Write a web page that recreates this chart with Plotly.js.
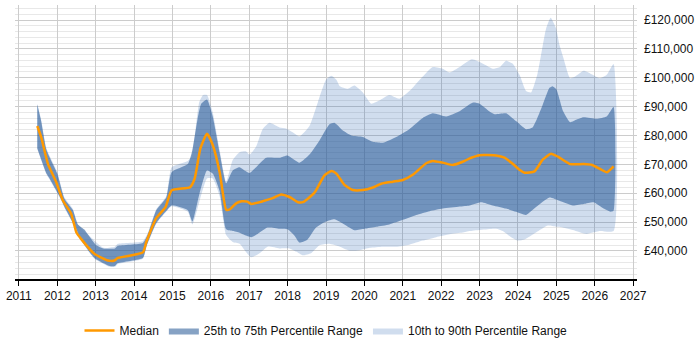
<!DOCTYPE html>
<html>
<head>
<meta charset="utf-8">
<script src="https://cdn.plot.ly/plotly-3.0.1.min.js"></script>
<style>html,body{margin:0;padding:0;background:#fff;}#chart{width:700px;height:350px;}</style>
</head>
<body>
<div id="chart"></div>
<script>
// Median
const medX = [2011.48,2011.58,2011.76,2011.97,2012.15,2012.36,2012.50,2012.62,2012.97,2013.32,2013.49,2013.58,2014.23,2014.32,2014.58,2014.82,2014.98,2015.46,2015.58,2015.73,2015.90,2016.05,2016.23,2016.40,2016.49,2016.66,2016.80,2016.95,2017.05,2017.35,2017.61,2017.83,2018.05,2018.27,2018.40,2018.70,2018.96,2019.14,2019.27,2019.48,2019.70,2019.96,2020.22,2020.44,2020.74,2021.00,2021.26,2021.61,2021.78,2022.04,2022.30,2022.56,2022.78,2023.00,2023.43,2023.65,2023.87,2024.04,2024.17,2024.43,2024.65,2024.86,2025.05,2025.36,2025.71,2025.93,2026.14,2026.32,2026.49];
const medY = [83300,79500,70100,64000,57400,53000,46400,44200,39000,36700,36700,37600,39500,43100,51400,55200,61000,62100,65100,75600,80600,76700,67300,54300,54400,56500,57200,57100,56300,57200,58300,59600,58700,56900,56900,60200,66200,67700,66800,62900,61100,61100,62000,63300,64000,64600,66400,70400,71200,70600,69800,70900,72300,73200,73100,72300,70100,68100,67100,67600,71700,73700,72600,70100,70100,69800,68400,67300,69300];

// 75th percentile
const p75X = [2011.48,2011.58,2011.72,2012.00,2012.19,2012.41,2012.54,2012.70,2013.00,2013.20,2013.50,2013.58,2014.23,2014.36,2014.58,2014.84,2014.98,2015.40,2015.52,2015.66,2015.75,2015.90,2016.05,2016.23,2016.40,2016.57,2016.75,2016.88,2017.01,2017.18,2017.44,2017.79,2018.00,2018.31,2018.57,2018.83,2019.09,2019.22,2019.44,2019.66,2019.96,2020.22,2020.48,2020.83,2021.17,2021.52,2021.78,2022.13,2022.48,2022.83,2023.00,2023.26,2023.39,2023.69,2023.95,2024.21,2024.38,2024.64,2024.82,2024.90,2025.00,2025.18,2025.36,2025.53,2025.71,2026.05,2026.31,2026.49];
const p75Y = [90700,85000,75000,66800,58000,54100,49200,47500,42200,40900,40900,41800,42800,45800,54100,58500,67300,70100,75000,86100,91000,92500,86600,74000,63500,67900,69000,67900,67000,69000,72300,72300,73100,70600,73400,78300,83900,84400,81700,80000,79500,77800,77500,79500,82200,86100,87700,86600,88400,91400,91000,88300,87400,87700,85000,82200,82800,90500,96500,97100,96000,88300,84600,85500,86300,85800,86600,89900];

// 25th percentile
const p25X = [2011.48,2011.72,2011.80,2012.10,2012.19,2012.50,2012.58,2012.97,2013.37,2013.50,2013.58,2014.23,2014.32,2014.58,2014.82,2014.98,2015.40,2015.52,2015.70,2015.90,2016.05,2016.23,2016.40,2016.57,2016.75,2016.88,2017.05,2017.22,2017.48,2017.79,2018.00,2018.18,2018.31,2018.52,2018.74,2019.00,2019.22,2019.48,2019.74,2020.00,2020.31,2020.65,2021.00,2021.35,2021.70,2022.04,2022.48,2022.74,2023.04,2023.34,2023.69,2023.95,2024.21,2024.47,2024.82,2025.08,2025.43,2025.71,2025.97,2026.23,2026.41,2026.49];
const p25Y = [75600,66800,65100,58000,55200,47500,44800,37600,34800,34800,35800,37600,41500,49700,53600,55800,54100,50200,59600,67900,66800,60700,47500,46900,46300,45500,44800,45900,48100,47700,47500,45300,42900,44000,48100,50200,51000,49200,47200,47700,48400,49200,50800,52500,53800,54700,55400,55800,56900,55800,54700,53600,52500,55200,58500,57400,55800,56300,56900,54700,53600,53900];

// 90th percentile
const p90X = [2011.48,2011.58,2011.72,2012.00,2012.19,2012.41,2012.50,2012.70,2013.00,2013.20,2013.50,2013.58,2014.23,2014.36,2014.58,2014.84,2014.98,2015.40,2015.50,2015.70,2015.80,2015.90,2016.05,2016.23,2016.40,2016.57,2016.75,2016.92,2017.01,2017.18,2017.35,2017.53,2017.79,2017.96,2018.13,2018.31,2018.57,2018.79,2019.00,2019.14,2019.27,2019.36,2019.57,2019.74,2019.96,2020.18,2020.39,2020.65,2020.91,2021.22,2021.52,2021.78,2022.04,2022.22,2022.48,2022.80,2023.10,2023.36,2023.53,2023.69,2023.87,2024.04,2024.21,2024.34,2024.51,2024.73,2024.85,2024.99,2025.08,2025.18,2025.36,2025.49,2025.71,2025.88,2026.14,2026.31,2026.49];
const p90Y = [91000,85500,75500,67300,58500,54500,49800,47000,43200,41100,41500,42500,43400,46300,54500,59000,69000,71200,72800,91600,94000,94000,88000,75000,64000,71500,74200,74500,73400,76200,82200,84400,82800,82400,81100,79700,83300,91600,99300,100700,99300,97100,96200,97300,94900,91000,92100,94000,92700,96000,100400,103700,103100,101800,103700,106400,104800,103100,103700,105900,104800,101000,95400,94900,101500,116900,120800,117200,111400,107000,99800,100400,102400,101500,99800,101000,104800];

// 10th percentile
const p10X = [2011.48,2011.72,2011.80,2012.10,2012.19,2012.50,2012.58,2012.97,2013.37,2013.50,2013.58,2014.23,2014.32,2014.58,2014.82,2014.98,2015.40,2015.52,2015.70,2015.90,2016.05,2016.23,2016.40,2016.57,2016.75,2016.88,2017.05,2017.27,2017.48,2017.79,2018.05,2018.22,2018.40,2018.61,2018.83,2019.09,2019.36,2019.62,2019.88,2020.14,2020.48,2020.83,2021.17,2021.52,2021.87,2022.22,2022.56,2022.74,2023.43,2023.60,2023.82,2024.00,2024.17,2024.47,2024.78,2024.99,2025.08,2025.43,2025.78,2025.95,2026.14,2026.49];
const p10Y = [75300,66500,64800,57700,55000,47200,44500,37300,34500,34500,35500,37300,41200,49400,53300,55500,53600,49200,57000,65100,65100,59000,45500,43100,42500,40300,37800,39200,41500,40900,40900,39800,38500,39200,42000,42500,41500,40100,40300,41100,41500,41500,42200,43600,44800,45800,46400,46900,47700,46900,44800,43600,44000,46400,48800,48400,48400,47300,45900,46400,46900,46900];

const tickYears = [2011,2012,2013,2014,2015,2016,2017,2018,2019,2020,2021,2022,2023,2024,2025,2026,2027];
const yTicks = [40000,50000,60000,70000,80000,90000,100000,110000,120000];
const yTickLabels = ['\u00a340,000','\u00a350,000','\u00a360,000','\u00a370,000','\u00a380,000','\u00a390,000','\u00a3100,000','\u00a3110,000','\u00a3120,000'];

function band(ux, uy, lx, ly) {
  return {
    x: ux.concat(lx.slice().reverse()),
    y: uy.concat(ly.slice().reverse())
  };
}

const outer = band(p90X, p90Y, p10X, p10Y);
const inner = band(p75X, p75Y, p25X, p25Y);

const traces = [
  {
    x: outer.x, y: outer.y, type: 'scatter', mode: 'lines',
    fill: 'toself', fillcolor: 'rgba(50,110,180,0.23)',
    line: {width: 0, shape: 'spline', smoothing: 0.5},
    name: '10th to 90th Percentile Range', hoverinfo: 'skip'
  },
  {
    x: inner.x, y: inner.y, type: 'scatter', mode: 'lines',
    fill: 'toself', fillcolor: 'rgba(40,90,150,0.56)',
    line: {width: 0, shape: 'spline', smoothing: 0.5},
    name: '25th to 75th Percentile Range', hoverinfo: 'skip'
  },
  {
    x: medX, y: medY, type: 'scatter', mode: 'lines',
    line: {color: '#ff9900', width: 2.5, shape: 'spline', smoothing: 0.5},
    name: 'Median'
  }
];

const layout = {
  width: 700, height: 350,
  margin: {l: 15, r: 63, t: 5, b: 58},
  paper_bgcolor: '#ffffff', plot_bgcolor: '#ffffff',
  font: {family: 'Liberation Sans, Arial, sans-serif', size: 12, color: '#111'},
  showlegend: true,
  legend: {
    orientation: 'h', x: 0.5, xanchor: 'center', y: -0.135, yanchor: 'top',
    traceorder: 'reversed', font: {size: 12, color: '#111'}
  },
  xaxis: {
    range: [2010.9, 2027.1],
    tickvals: tickYears, ticktext: tickYears.map(String),
    showgrid: true, gridcolor: '#cccccc', gridwidth: 1,
    zeroline: false,
    showline: true, linecolor: '#000', linewidth: 1.5,
    ticks: 'outside', ticklen: 5, tickcolor: '#000',
    tickfont: {size: 12, color: '#111'}
  },
  yaxis: {
    side: 'right',
    range: [30300, 125200],
    tickvals: yTicks, ticktext: yTickLabels,
    showgrid: true, gridcolor: '#cccccc', gridwidth: 1,
    minor: {dtick: 2000, tick0: 0, showgrid: true, gridcolor: '#e8e8e8', gridwidth: 1},
    zeroline: false, showline: false, ticks: '',
    ticklabelstandoff: 6,
    tickfont: {size: 12, color: '#111'}
  }
};

Plotly.newPlot('chart', traces, layout, {displayModeBar: false, staticPlot: true});
</script>
</body>
</html>
